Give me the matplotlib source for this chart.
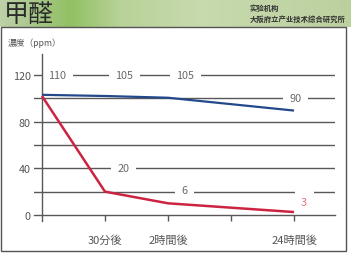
import numpy as np
import matplotlib
matplotlib.use("Agg")
import matplotlib.pyplot as plt
from matplotlib.patches import Rectangle

plt.rcParams['font.family'] = ['Noto Sans CJK JP', 'DejaVu Sans']

# data
x_pos = [0, 1, 2, 4]
blue_vals = [103, 102, 100.5, 89.5]
red_vals = [102, 20, 10, 2.5]
tick_pos = [1, 2, 3, 4]
tick_labels = ['30分後', '2時間後', '', '24時間後']
y_ticks = [0, 40, 80, 120]
grid_levels = [0, 20, 40, 60, 80, 100, 120]

# value labels: (x, y, text)
blue_notes = [(0.24, 120, '110'), (1.31, 120, '105'), (2.27, 120, '105'), (4.03, 100, '90')]
red_notes = [(1.29, 40, '20'), (2.26, 21, '6'), (4.16, 11, '3')]

W, H = 351, 255
fig = plt.figure(figsize=(W / 100, H / 100), dpi=100)
fig.patch.set_facecolor('white')

# header band with green gradient
hax = fig.add_axes([0, (H - 28) / H, 1, 28 / H])
stops_x = [0, 40, 70, 120, 200, 351]
stops_c = np.array([[190, 208, 168], [164, 198, 132], [146, 192, 98],
                    [184, 210, 152], [200, 218, 174], [188, 208, 158]]) / 255
xs = np.arange(W)
grad = np.stack([np.interp(xs, stops_x, stops_c[:, i]) for i in range(3)], axis=-1)
hax.imshow(grad[None, :, :], aspect='auto', extent=[0, W, 0, 1])
hax.set_axis_off()

fig.text(4 / W, 1 - 15 / H, '甲醛', fontsize=18, color='#2a2a2a', va='center', ha='left',
         family=['Noto Sans CJK SC', 'DejaVu Sans'], weight='medium')
fig.text(250 / W, 1 - 8 / H, '实验机构', fontsize=5.3, color='#333333', va='center', ha='left',
         family=['Noto Sans CJK SC', 'DejaVu Sans'], weight='bold')
fig.text(250 / W, 1 - 19 / H, '大阪府立产业技术综合研究所', fontsize=5.3, color='#333333',
         va='center', ha='left', family=['Noto Sans CJK SC', 'DejaVu Sans'], weight='bold')

# frame of the chart panel
fig.add_artist(Rectangle((1 / W, 3 / H), 345 / W, (252 - 28) / H, transform=fig.transFigure,
                         fill=False, edgecolor='#555555', linewidth=1.0))
fig.text(8 / W, 1 - 43 / H, '濃度（ppm）', fontsize=6.3, color='#555555', va='center', ha='left')

# plot axes
x0, x1 = -0.12, 4.65
y0, y1 = -5, 138
ax = fig.add_axes([34.4 / W, (H - 221.8) / H, (335 - 34.4) / W, (221.8 - 55) / H])
ax.set_xlim(x0, x1)
ax.set_ylim(y0, y1)
ax.patch.set_alpha(0)

gc = '#585858'
for lv in grid_levels[1:]:
    ax.axhline(lv, color=gc, linewidth=1.0, zorder=1)
for s in ['top', 'right']:
    ax.spines[s].set_visible(False)
ax.spines['left'].set_position(('data', 0))
ax.spines['bottom'].set_position(('data', 0))
for s in ['left', 'bottom']:
    ax.spines[s].set_color(gc)
    ax.spines[s].set_linewidth(1.0)

ax.set_yticks(y_ticks)
ax.set_yticklabels([str(v) for v in y_ticks])
ax.tick_params(axis='y', length=0, pad=8, labelsize=7.8, labelcolor='#555555')
ax.set_xticks(tick_pos)
ax.set_xticklabels(tick_labels)
ax.tick_params(axis='x', direction='out', length=4.5, width=1.0, color=gc, pad=9.5,
               labelsize=8, labelcolor='#555555')

box = dict(boxstyle='square,pad=0.6', facecolor='white', edgecolor='none')
for x, y, t in blue_notes:
    ax.text(x, y, t, fontsize=7.8, color='#6a6a6a', ha='center', va='center',
            bbox=box, zorder=2, fontstretch='condensed')
for x, y, t in red_notes:
    col = '#e07080' if t == '3' else '#6a6a6a'
    ax.text(x, y, t, fontsize=7.8, color=col, ha='center', va='center',
            bbox=box, zorder=2, fontstretch='condensed')

ax.plot(x_pos, blue_vals, color='#23498a', linewidth=1.6, zorder=4, solid_capstyle='butt')
ax.plot(x_pos, red_vals, color='#cc2440', linewidth=1.8, zorder=4, solid_capstyle='butt')

fig.savefig('out.png', dpi=100)
